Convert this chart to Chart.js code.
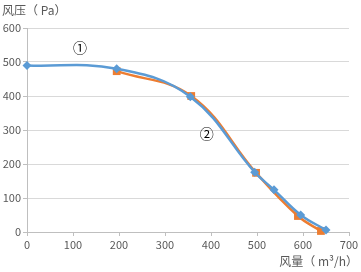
<!DOCTYPE html>
<html>
<head>
<meta charset="utf-8">
<script src="https://cdn.jsdelivr.net/npm/chart.js@4"></script>
<style>
  html, body { margin: 0; padding: 0; background: #fff; }
  #wrap { width: 361px; height: 272px; }
</style>
</head>
<body>
<div id="wrap"><canvas id="fanChart" width="361" height="272"></canvas></div>
<script>
// Curve 1 (blue) and curve 2 (orange), airflow m3/h vs pressure Pa
const blueFlow = [0, 195, 355, 495, 537, 595, 650];
const bluePressure = [490, 480, 398, 176, 124, 50, 6];
const orangeFlow = [195, 357, 498, 589, 639];
const orangePressure = [473, 400, 174, 47, 3];

const xTicks = [0, 100, 200, 300, 400, 500, 600, 700];
const yTicks = [0, 100, 200, 300, 400, 500, 600];

// Curve labels placed in data units
const curveLabels = [
    { text: '①', x: 115, y: 541 },
    { text: '②', x: 391, y: 288 }
];

const gray = '#595959';
const cjk = '"Noto Sans CJK SC", "Noto Sans", sans-serif';

function toPoints(xs, ys) {
    return xs.map((x, i) => ({ x: x, y: ys[i] }));
}

// Draws the axis titles and the circled curve numbers
const labelPlugin = {
    id: 'labels',
    afterDraw(chart) {
        const ctx = chart.ctx;
        const xs = chart.scales.x;
        const ys = chart.scales.y;
        ctx.save();
        ctx.fillStyle = gray;
        ctx.font = '12px ' + cjk;
        ctx.textBaseline = 'middle';
        ctx.textAlign = 'left';
        ctx.fillText('风压（ Pa）', 2, 10);
        ctx.textAlign = 'right';
        ctx.fillText('风量（ m³/h）', 358, 261);

        ctx.fillStyle = '#000';
        ctx.font = '14px ' + cjk;
        ctx.textAlign = 'center';
        curveLabels.forEach(l => {
            ctx.fillText(l.text, xs.getPixelForValue(l.x), ys.getPixelForValue(l.y));
        });
        ctx.restore();
    }
};

new Chart(document.getElementById('fanChart'), {
    type: 'scatter',
    data: {
        datasets: [
            {
                label: '①',
                data: toPoints(blueFlow, bluePressure),
                showLine: true,
                borderColor: '#5b9bd5',
                backgroundColor: '#5b9bd5',
                borderWidth: 2.5,
                pointStyle: 'rectRot',
                pointRadius: 4.5,
                pointBorderWidth: 0,
                tension: 0.4,
                clip: false,
                order: 0
            },
            {
                label: '②',
                data: toPoints(orangeFlow, orangePressure),
                showLine: true,
                borderColor: '#ed7d31',
                backgroundColor: '#ed7d31',
                borderWidth: 2.5,
                pointStyle: 'rect',
                pointRadius: 5.5,
                pointBorderWidth: 0,
                tension: 0.4,
                clip: false,
                order: 1
            }
        ]
    },
    options: {
        responsive: false,
        animation: false,
        layout: { padding: { top: 28, right: 12, left: 0, bottom: 0 } },
        plugins: {
            legend: { display: false },
            tooltip: { enabled: false }
        },
        scales: {
            x: {
                type: 'linear',
                min: 0,
                max: 700,
                afterBuildTicks: s => { s.ticks = xTicks.map(v => ({ value: v })); },
                afterFit: s => { s.height = 40; },
                grid: { drawOnChartArea: false, drawTicks: true, tickLength: 4, tickColor: '#bfbfbf' },
                border: { color: '#bfbfbf', width: 1 },
                ticks: { color: gray, font: { family: cjk, size: 11 }, padding: 2, maxRotation: 0 }
            },
            y: {
                type: 'linear',
                min: 0,
                max: 600,
                afterBuildTicks: s => { s.ticks = yTicks.map(v => ({ value: v })); },
                afterFit: s => { s.width = 27; },
                grid: { color: '#d9d9d9', drawTicks: true, tickLength: 4, tickColor: '#bfbfbf' },
                border: { color: '#bfbfbf', width: 1 },
                ticks: { color: gray, font: { family: cjk, size: 11 }, padding: 2 }
            }
        }
    },
    plugins: [labelPlugin]
});
</script>
</body>
</html>
